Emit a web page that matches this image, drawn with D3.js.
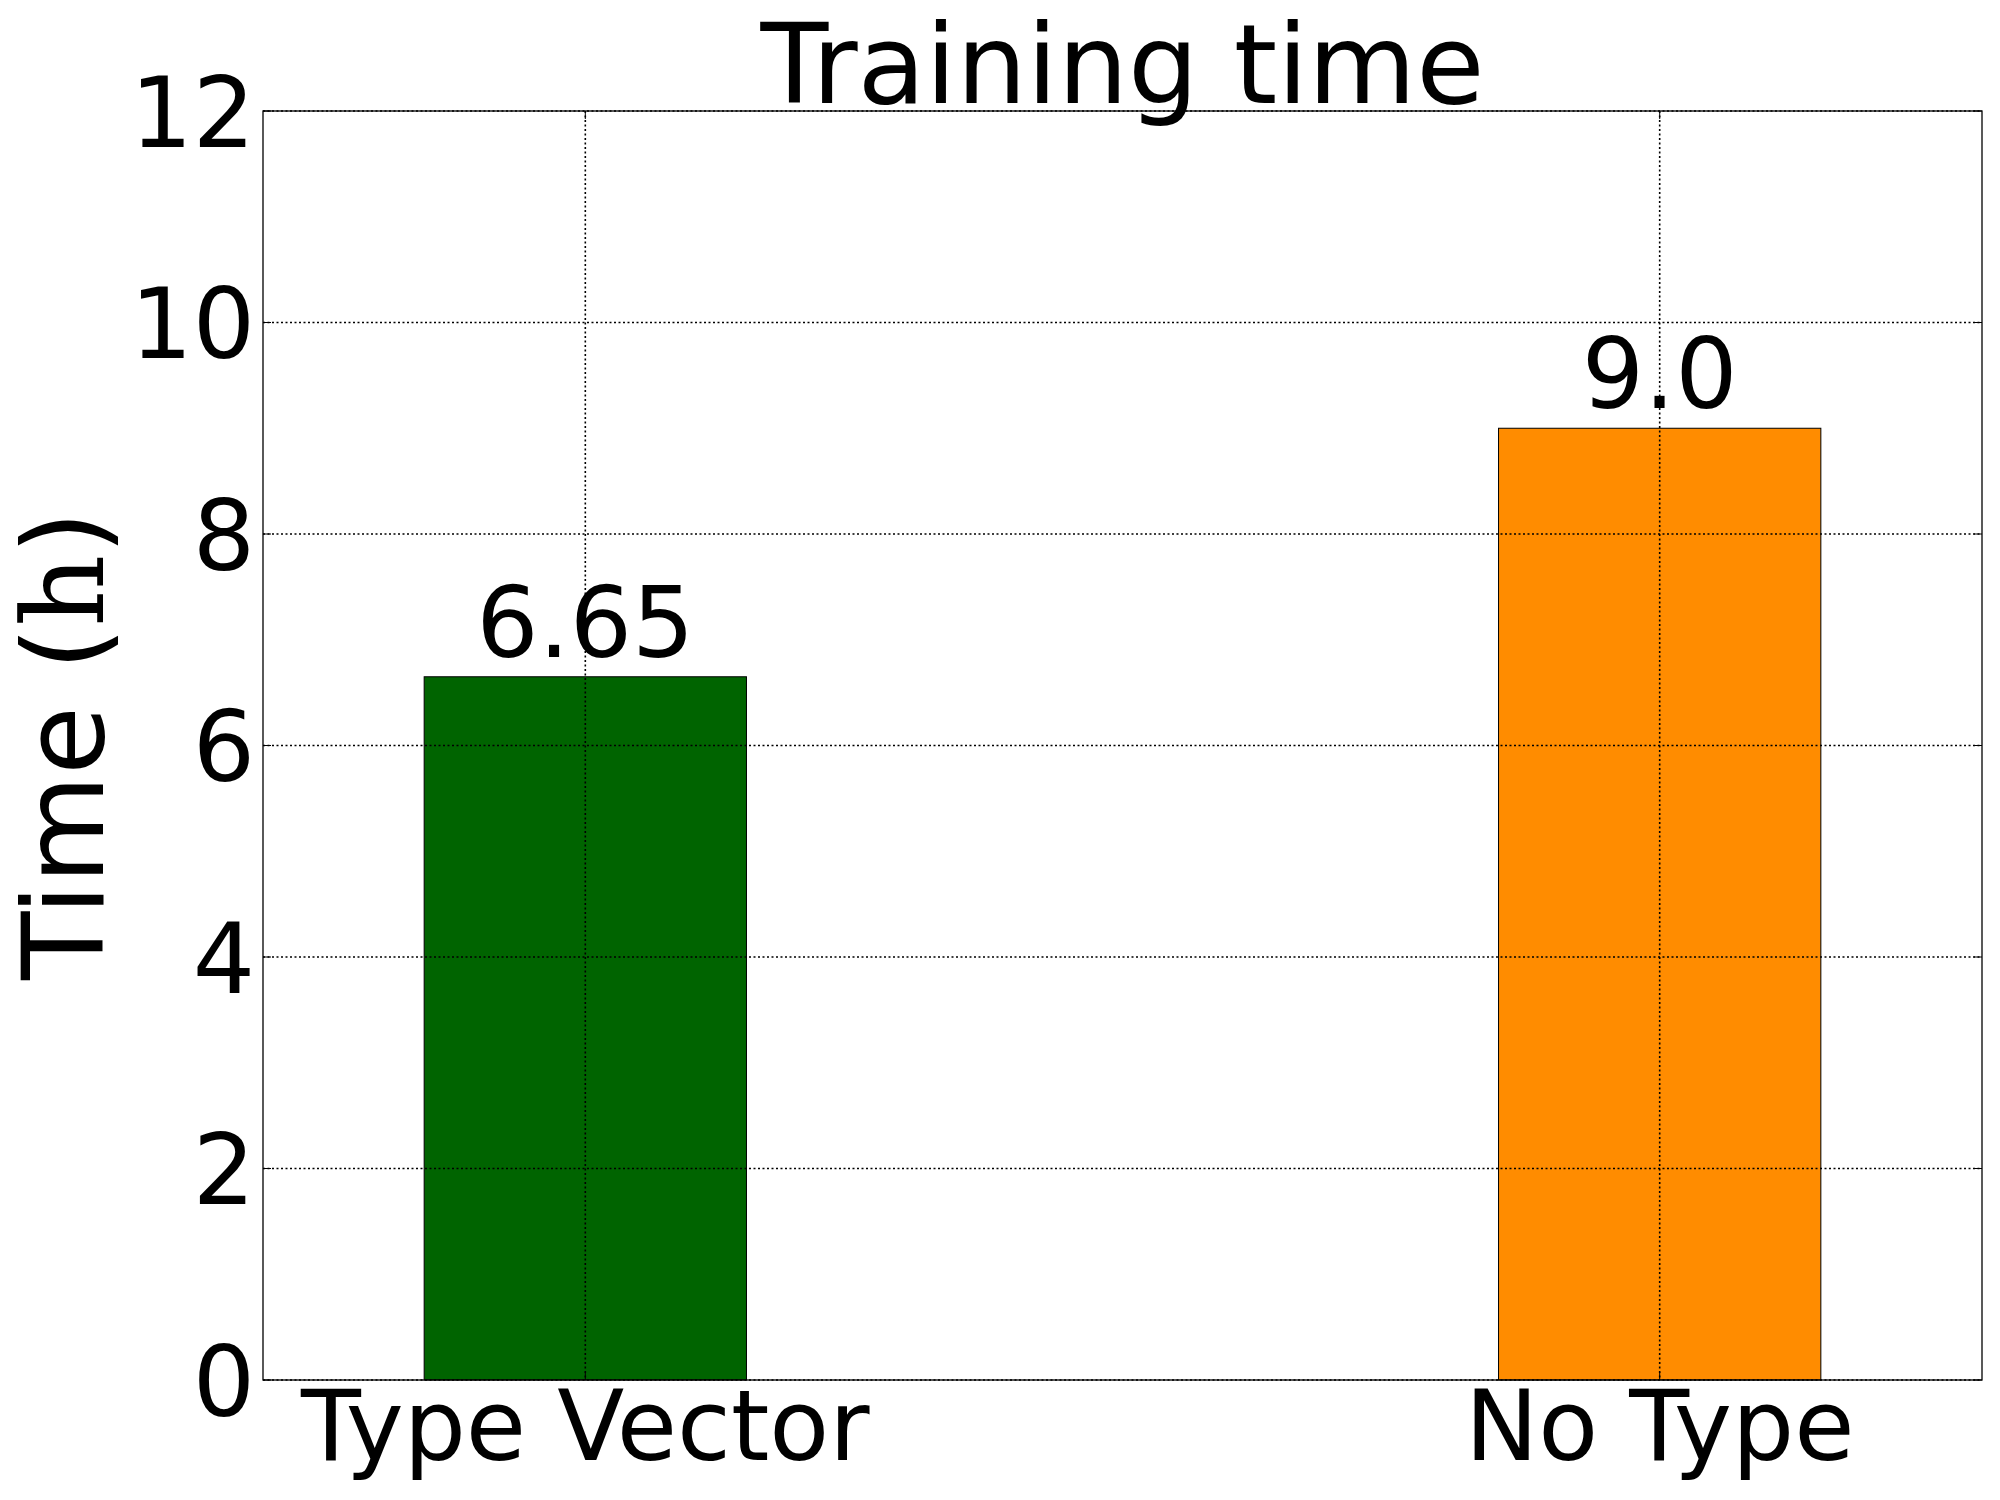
<!DOCTYPE html>
<html><head><meta charset="utf-8">
<script src="https://cdn.jsdelivr.net/npm/d3@7"></script>
<style>body{margin:0;background:#fff}svg{display:block}text{font-family:"DejaVu Sans",sans-serif;fill:#000}</style>
</head><body>
<svg id="c" width="2000" height="1500"></svg>
<script>
const categories = ["Type Vector", "No Type"];
const values = [6.65, 9.0];
const valueLabels = ["6.65", "9.0"];
const colors = ["#006400", "#FF8C00"];
const yTicks = [0, 2, 4, 6, 8, 10, 12];
const titleText = "Training time";

const svg = d3.select("#c");
const L = 263, R = 1982, T = 111, B = 1380;
const x = d3.scaleLinear().domain([-0.3, 1.3]).range([L, R]);
const y = d3.scaleLinear().domain([0, 12]).range([B, T]);
const barW = 0.3;

svg.append("rect").attr("x", L).attr("y", T).attr("width", R - L).attr("height", B - T).attr("fill", "#fff");

// bars
svg.selectAll(".bar").data(values).enter().append("rect")
  .attr("x", (d, i) => x(i - barW / 2))
  .attr("width", (d, i) => x(i + barW / 2) - x(i - barW / 2))
  .attr("y", d => y(d))
  .attr("height", d => B - y(d))
  .attr("fill", (d, i) => colors[i])
  .attr("stroke", "#000").attr("stroke-width", 1);

// grid (on top)
const g = svg.append("g");
g.selectAll(".hg").data(yTicks).enter().append("line")
  .attr("x1", L).attr("x2", R).attr("y1", d => y(d)).attr("y2", d => y(d))
  .attr("stroke", "#000").attr("stroke-width", 1.6).attr("stroke-dasharray", "2,2.5");
g.selectAll(".vg").data(categories).enter().append("line")
  .attr("x1", (d, i) => x(i)).attr("x2", (d, i) => x(i)).attr("y1", T).attr("y2", B)
  .attr("stroke", "#000").attr("stroke-width", 1.6).attr("stroke-dasharray", "2,2.5");

// inward ticks
yTicks.forEach(v => {
  svg.append("line").attr("x1", L).attr("x2", L + 8).attr("y1", y(v)).attr("y2", y(v)).attr("stroke", "#000");
  svg.append("line").attr("x1", R).attr("x2", R - 8).attr("y1", y(v)).attr("y2", y(v)).attr("stroke", "#000");
});
categories.forEach((c, i) => {
  svg.append("line").attr("x1", x(i)).attr("x2", x(i)).attr("y1", B).attr("y2", B - 8).attr("stroke", "#000");
  svg.append("line").attr("x1", x(i)).attr("x2", x(i)).attr("y1", T).attr("y2", T + 8).attr("stroke", "#000");
});

// frame
svg.append("rect").attr("x", L).attr("y", T).attr("width", R - L).attr("height", B - T)
  .attr("fill", "none").attr("stroke", "#000").attr("stroke-width", 1.3);

// y tick labels
svg.selectAll(".yl").data(yTicks).enter().append("text")
  .attr("x", L - 8).attr("y", d => y(d)).attr("dy", "0.365em")
  .attr("text-anchor", "end").attr("font-size", 98).text(d => d);

// x tick labels
svg.selectAll(".xl").data(categories).enter().append("text")
  .attr("x", (d, i) => x(i)).attr("y", B + 80)
  .attr("text-anchor", "middle").attr("font-size", 98).text(d => d);

// value labels
svg.selectAll(".vl").data(values).enter().append("text")
  .attr("x", (d, i) => x(i)).attr("y", d => y(d) - 20)
  .attr("text-anchor", "middle").attr("font-size", 98).text((d, i) => valueLabels[i]);

// title
svg.append("text").attr("x", (L + R) / 2).attr("y", 103)
  .attr("text-anchor", "middle").attr("font-size", 111).text(titleText);

// y label
const yl = svg.append("text").attr("transform", `translate(103,${(T + B) / 2}) rotate(-90)`)
  .attr("text-anchor", "middle").attr("font-size", 112);
yl.append("tspan").text("Time (");
yl.append("tspan").attr("font-family", "DejaVu Serif").text("h");
yl.append("tspan").text(")");
</script>
</body></html>
